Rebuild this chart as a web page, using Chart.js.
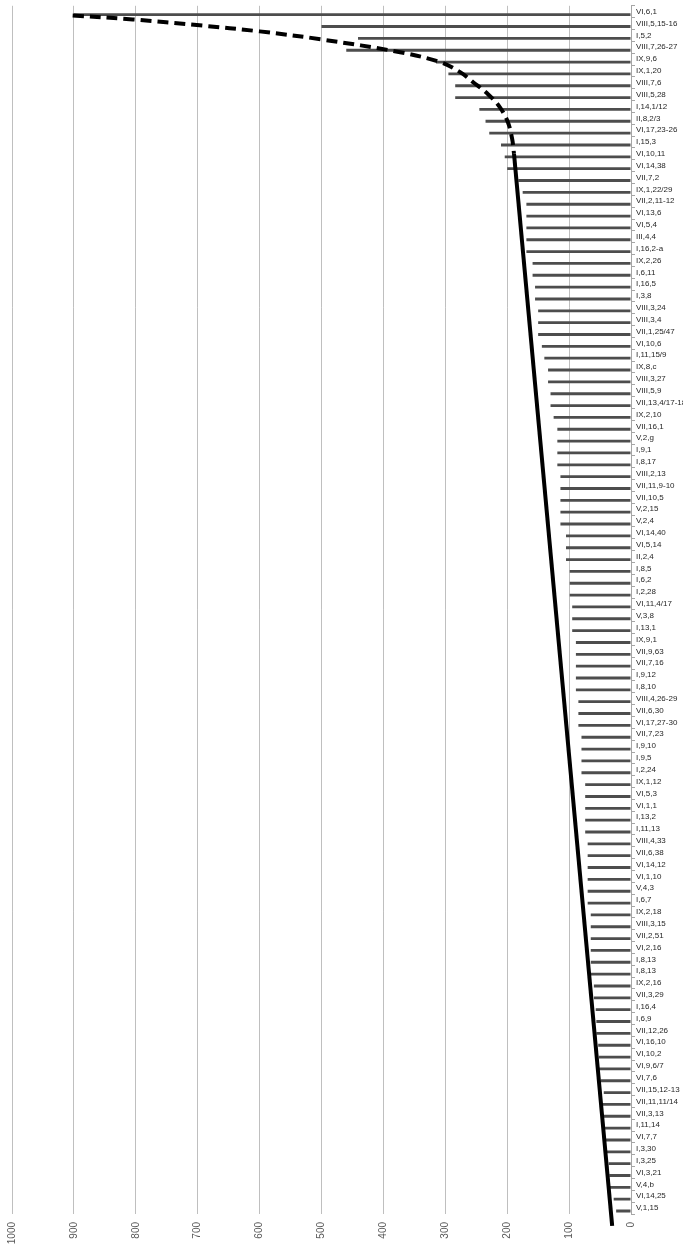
<!DOCTYPE html>
<html>
<head>
<meta charset="utf-8">
<script src="https://cdn.jsdelivr.net/npm/chart.js@4/dist/chart.umd.min.js"></script>
<style>
  html, body { margin: 0; padding: 0; background: #ffffff; }
  #wrap { width: 683px; height: 1249px; }
</style>
</head>
<body>
<div id="wrap"><canvas id="c" width="683" height="1249"></canvas></div>
<script>
// Passages, most frequent first
const categories = [
  'VI,6,1', 'VIII,5,15-16', 'I,5,2', 'VIII,7,26-27', 'IX,9,6', 'IX,1,20', 'VIII,7,6', 'VIII,5,28',
  'I,14,1/12', 'II,8,2/3', 'VI,17,23-26', 'I,15,3', 'VI,10,11', 'VI,14,38', 'VII,7,2', 'IX,1,22/29',
  'VII,2,11-12', 'VI,13,6', 'VI,5,4', 'III,4,4', 'I,16,2-a', 'IX,2,26', 'I,6,11', 'I,16,5',
  'I,3,8', 'VIII,3,24', 'VIII,3,4', 'VII,1,25/47', 'VI,10,6', 'I,11,15/9', 'IX,8,c', 'VIII,3,27',
  'VIII,5,9', 'VII,13,4/17-18', 'IX,2,10', 'VII,16,1', 'V,2,g', 'I,9,1', 'I,8,17', 'VIII,2,13',
  'VII,11,9-10', 'VII,10,5', 'V,2,15', 'V,2,4', 'VI,14,40', 'VI,5,14', 'II,2,4', 'I,8,5',
  'I,6,2', 'I,2,28', 'VI,11,4/17', 'V,3,8', 'I,13,1', 'IX,9,1', 'VII,9,63', 'VII,7,16',
  'I,9,12', 'I,8,10', 'VIII,4,26-29', 'VII,6,30', 'VI,17,27-30', 'VII,7,23', 'I,9,10', 'I,9,5',
  'I,2,24', 'IX,1,12', 'VI,5,3', 'VI,1,1', 'I,13,2', 'I,11,13', 'VIII,4,33', 'VII,6,38',
  'VI,14,12', 'VI,1,10', 'V,4,3', 'I,6,7', 'IX,2,18', 'VIII,3,15', 'VII,2,51', 'VI,2,16',
  'I,8,13', 'I,8,13', 'IX,2,16', 'VII,3,29', 'I,16,4', 'I,6,9', 'VII,12,26', 'VI,16,10',
  'VI,10,2', 'VI,9,6/7', 'VI,7,6', 'VII,15,12-13', 'VII,11,11/14', 'VII,3,13', 'I,11,14', 'VI,7,7',
  'I,3,30', 'I,3,25', 'VI,3,21', 'V,4,b', 'VI,14,25', 'V,1,15'
];

const counts = [
  900, 500, 441, 460, 315, 295, 284, 284,
  245, 235, 229, 210, 204, 200, 182, 175,
  169, 169, 169, 169, 169, 159, 159, 155,
  155, 150, 150, 150, 144, 140, 134, 134,
  130, 130, 125, 119, 119, 119, 119, 114,
  114, 114, 114, 114, 105, 105, 105, 99,
  99, 99, 95, 95, 95, 89, 89, 89,
  89, 89, 85, 85, 85, 80, 80, 80,
  80, 74, 74, 74, 74, 74, 70, 70,
  70, 70, 70, 70, 65, 65, 65, 65,
  65, 65, 60, 60, 57, 56, 56, 53,
  52, 52, 49, 44, 47, 44, 44, 41,
  39, 36, 35, 34, 28, 24
];

// Value-axis tick labels
const tickValues = [0, 100, 200, 300, 400, 500, 600, 700, 800, 900, 1000];

// Dashed curve over the head of the distribution (value, row position)
const curveValues = [902, 805, 697, 600, 501, 373, 308, 276, 255, 231, 212, 199, 192, 189];
const curveRows   = [0.31, 0.65, 1.15, 1.66, 2.33, 3.42, 4.26, 5.1, 5.95, 6.96, 8.05, 9.31, 10.74, 12.0];

// Straight line over the tail (value, row position)
const lineValues = [189, 30.4];
const lineRows   = [12.0, 102.5];

const toPoints = (xs, ys) => xs.map((v, i) => ({ x: v, y: ys[i] }));

new Chart(document.getElementById('c'), {
  type: 'bar',
  data: {
    labels: categories,
    datasets: [
      {
        type: 'line',
        data: toPoints(curveValues, curveRows),
        xAxisID: 'x',
        yAxisID: 'yl',
        borderColor: '#000000',
        borderWidth: 4,
        borderDash: [11, 6],
        pointRadius: 0,
        tension: 0.35,
        fill: false,
        clip: false,
        order: 0
      },
      {
        type: 'line',
        data: toPoints(lineValues, lineRows),
        xAxisID: 'x',
        yAxisID: 'yl',
        borderColor: '#000000',
        borderWidth: 4,
        pointRadius: 0,
        tension: 0,
        fill: false,
        clip: false,
        order: 0
      },
      {
        type: 'bar',
        data: counts,
        xAxisID: 'x',
        yAxisID: 'y',
        backgroundColor: '#4d4d4d',
        borderWidth: 0,
        categoryPercentage: 1,
        barPercentage: 0.48,
        order: 1
      }
    ]
  },
  options: {
    indexAxis: 'y',
    responsive: false,
    animation: false,
    devicePixelRatio: 1,
    layout: { padding: { left: 12, top: 1, right: 0, bottom: 0 } },
    plugins: {
      legend: { display: false },
      tooltip: { enabled: false },
      title: { display: false }
    },
    scales: {
      x: {
        type: 'linear',
        position: 'bottom',
        min: 0,
        max: 1000,
        bounds: 'data',
        reverse: true,
        afterBuildTicks: (s) => { s.ticks = tickValues.map(v => ({ value: v })); },
        ticks: {
          minRotation: 90,
          maxRotation: 90,
          padding: 8,
          color: '#595959',
          font: { family: 'Liberation Sans, Arial, sans-serif', size: 10 },
          callback: (v) => String(v)
        },
        grid: { color: '#bfbfbf', lineWidth: 1, drawTicks: false },
        border: { display: false },
        afterFit: (s) => { s.height = 35; }
      },
      y: {
        type: 'category',
        position: 'right',
        offset: true,
        grid: {
          drawOnChartArea: false,
          drawTicks: true,
          tickLength: 4,
          color: '#a6a6a6',
          offset: true
        },
        border: { display: true, color: '#a6a6a6', width: 1 },
        ticks: {
          autoSkip: false,
          padding: 1,
          color: '#262626',
          font: { family: 'Liberation Sans, Arial, sans-serif', size: 8 }
        },
        afterFit: (s) => { s.width = 52; }
      },
      // row-position axis for the two overlaid lines, aligned with the category rows
      yl: {
        type: 'linear',
        display: false,
        offset: false,
        grid: { offset: false },
        bounds: 'data',
        min: -0.5,
        max: 101.5,
        reverse: true
      }
    }
  }
});
</script>
</body>
</html>
